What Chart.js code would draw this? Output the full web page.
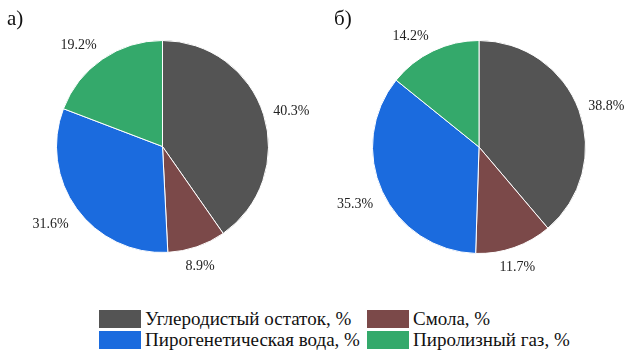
<!DOCTYPE html>
<html lang="ru">
<head>
<meta charset="UTF-8">
<title>Продукты пиролиза</title>
<script src="https://cdn.jsdelivr.net/npm/chart.js"></script>
<style>
  body { margin: 0; background: #fff; font-family: "Liberation Serif", "Times New Roman", serif; }
  #wrap { position: relative; width: 628px; height: 353px; overflow: hidden; }
  .pane { position: absolute; top: 0; width: 314px; height: 290px; }
  .tag { position: absolute; top: 6px; font-size: 21px; color: #111; }
  .leg { position: absolute; display: flex; align-items: center; font-size: 19px; line-height: 19px; color: #111; white-space: nowrap; }
  .leg i { display: inline-block; width: 42px; height: 18px; margin-right: 4px; }
</style>
</head>
<body>
<div id="wrap">
  <div class="pane" style="left:0"><canvas id="pieA" width="314" height="290"></canvas></div>
  <div class="pane" style="left:314px"><canvas id="pieB" width="314" height="290"></canvas></div>
  <div class="tag" style="left:7px">а)</div>
  <div class="tag" style="left:334px">б)</div>
  <div id="legend"></div>
</div>
<script>
  const categories = ['Углеродистый остаток, %', 'Смола, %', 'Пирогенетическая вода, %', 'Пиролизный газ, %'];
  const valuesA = [40.3, 8.9, 31.6, 19.2];
  const valuesB = [38.8, 11.7, 35.3, 14.2];
  const colors = ['#545454', '#7b4949', '#1b6bde', '#34a96b'];

  const clamp01 = v => Math.max(0, Math.min(1, v));

  // percentage labels outside each slice: anchor point just past the rim,
  // text box hangs off it on the side facing away from the centre
  const outsideLabels = {
    id: 'outsideLabels',
    afterDatasetsDraw(chart) {
      const ctx = chart.ctx;
      const meta = chart.getDatasetMeta(0);
      const vals = chart.data.datasets[0].data;
      ctx.save();
      ctx.font = '14px "Liberation Serif", serif';
      ctx.fillStyle = '#222';
      ctx.textAlign = 'center';
      ctx.textBaseline = 'middle';
      meta.data.forEach((arc, i) => {
        const mid = (arc.startAngle + arc.endAngle) / 2;
        const txt = vals[i].toFixed(1) + '%';
        const hw = ctx.measureText(txt).width / 2, hh = 6;
        const c = Math.cos(mid), s = Math.sin(mid);
        const d = arc.outerRadius + 10;
        const fx = Math.sign(c) * clamp01((Math.abs(c) - 0.33) / 0.1);
        const fy = Math.sign(s) * clamp01((Math.abs(s) - 0.33) / 0.1);
        const x = arc.x + c * d + fx * hw;
        const y = arc.y + s * d + (fy > 0 ? fy * (hh + 4) : fy * hh);
        ctx.fillText(txt, x, y);
      });
      ctx.restore();
    }
  };

  function makePie(id, values, padding) {
    return new Chart(document.getElementById(id), {
      type: 'pie',
      data: {
        labels: categories,
        datasets: [{ data: values, backgroundColor: colors, borderColor: '#fff', borderWidth: 1 }]
      },
      options: {
        responsive: false,
        animation: false,
        layout: { padding: padding },
        plugins: { legend: { display: false }, tooltip: { enabled: false } }
      },
      plugins: [outsideLabels]
    });
  }

  makePie('pieA', valuesA, { left: 56, right: 45, top: 40, bottom: 37 });
  makePie('pieB', valuesB, { left: 58, right: 42, top: 40, bottom: 36 });

  // shared legend under both pies, two columns
  const legendPos = [[99, 309], [367, 309], [99, 330], [367, 330]];
  const legend = document.getElementById('legend');
  categories.forEach((name, k) => {
    const el = document.createElement('div');
    el.className = 'leg';
    el.style.left = legendPos[k][0] + 'px';
    el.style.top = legendPos[k][1] + 'px';
    el.innerHTML = '<i style="background:' + colors[k] + '"></i>' + name;
    legend.appendChild(el);
  });
</script>
</body>
</html>
